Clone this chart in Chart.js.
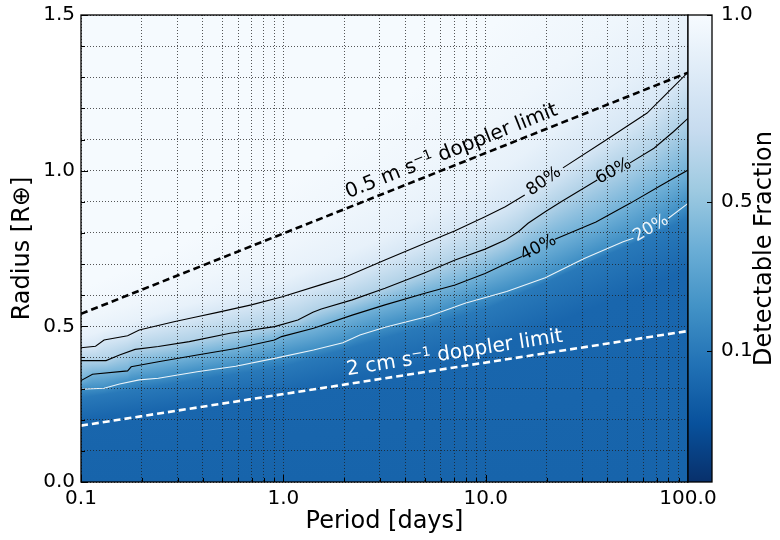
<!DOCTYPE html>
<html>
<head>
<meta charset="utf-8">
<script src="https://cdn.jsdelivr.net/npm/chart.js@4.4.0/dist/chart.umd.min.js"></script>
<style>
  html, body { margin: 0; padding: 0; background: #ffffff; }
  canvas { display: block; }
</style>
</head>
<body>
<canvas id="chart" width="780" height="540"></canvas>
<script>
// ---- Axis ticks ----
const xTickValues = [0.1, 1, 10, 100];
const xTickLabels = ['0.1', '1.0', '10.0', '100.0'];
const yTickValues = [0, 0.5, 1.0, 1.5];
const yTickLabels = ['0.0', '0.5', '1.0', '1.5'];
const cbarTickValues = [0.1, 0.5, 1.0];
const cbarTickLabels = ['0.1', '0.5', '1.0'];

// ---- Colour range of the detectable fraction ----
const colourMin = -0.25;
const colourMax = 1.0;

// ---- Detectable-fraction contours: [period (days), radius (R_earth)]; null marks the label gap ----
const contour20 = [
  [0.100, 0.298], [0.130, 0.301], [0.155, 0.315], [0.194, 0.328], [0.241, 0.333], [0.375, 0.354],
  [0.582, 0.372], [0.905, 0.397], [1.41, 0.424], [1.97, 0.447], [2.39, 0.472], [3.18, 0.497],
  [5.28, 0.533], [7.91, 0.574], [12.7, 0.612], [19.7, 0.656], [30.7, 0.718], [47.8, 0.772],
  [53.7, 0.783], null, [80.0, 0.847], [100, 0.895]
];
const contour40 = [
  [0.100, 0.326], [0.114, 0.346], [0.170, 0.357], [0.177, 0.370], [0.241, 0.386], [0.375, 0.408],
  [0.582, 0.429], [0.905, 0.456], [0.98, 0.467], [1.41, 0.494], [2.19, 0.536], [3.18, 0.569],
  [5.01, 0.606], [7.06, 0.633], [9.93, 0.670], [12.5, 0.700], [15.1, 0.724], null,
  [22.0, 0.780], [35.1, 0.835], [51.7, 0.895], [74.1, 0.954], [100, 1.002]
];
const contour60 = [
  [0.100, 0.390], [0.133, 0.390], [0.155, 0.408], [0.185, 0.426], [0.241, 0.435], [0.343, 0.451],
  [0.545, 0.478], [0.905, 0.499], [1.18, 0.520], [1.40, 0.545], [1.54, 0.556], [2.19, 0.585],
  [3.18, 0.622], [5.01, 0.672], [7.06, 0.713], [9.93, 0.748], [12.5, 0.777], [14.5, 0.804],
  [16.2, 0.831], [19.7, 0.868], [23.6, 0.900], [35.6, 0.970], null,
  [51.7, 1.025], [67.9, 1.072], [84.7, 1.125], [100, 1.168]
];
const contour80 = [
  [0.100, 0.431], [0.118, 0.436], [0.130, 0.456], [0.170, 0.470], [0.194, 0.488], [0.288, 0.515],
  [0.375, 0.531], [0.467, 0.544], [0.695, 0.569], [0.989, 0.595], [1.54, 0.634], [2.00, 0.657],
  [3.18, 0.713], [5.01, 0.767], [7.06, 0.807], [9.93, 0.852], [12.5, 0.884], [15.6, 0.922], null,
  [24.1, 1.009], [39.0, 1.097], [62.8, 1.185], [80.0, 1.253], [100, 1.316]
];
const contourLabels = ['20%', '40%', '60%', '80%'];

// ---- Further iso-fraction curves that only shade the map ----
const shade01 = [[0.1, 0.20], [1, 0.28], [10, 0.42], [100, 0.68]];
const shade10 = [[0.1, 0.27], [1, 0.37], [10, 0.555], [100, 0.845]];
const shade90 = [[0.1, 0.465], [0.3, 0.56], [1, 0.65], [3, 0.78], [10, 0.96], [30, 1.2], [100, 1.45]];
const shade95 = [[0.1, 0.52], [0.3, 0.62], [1, 0.76], [3, 0.93], [10, 1.14], [30, 1.40], [100, 1.65]];
const shade99 = [[0.1, 0.62], [0.3, 0.76], [1, 0.96], [3, 1.18], [10, 1.45], [30, 1.75], [100, 2.05]];

// ---- Doppler limits: radius at the period endpoints ----
const dopplerPeriods = [0.1, 100];
const doppler05ms = [0.540, 1.315];
const doppler2cms = [0.181, 0.485];
const dopplerLabelPeriod = 7.2;

// ---- Colours ----
const bluesRamp = ['#f7fbff', '#deebf7', '#c6dbef', '#9ecae1', '#6baed6', '#4292c6', '#2171b5', '#08519c', '#08306b'];
const FONT = "'DejaVu Sans', 'Liberation Sans', sans-serif";

function hexRgb(h) {
  return [parseInt(h.slice(1, 3), 16), parseInt(h.slice(3, 5), 16), parseInt(h.slice(5, 7), 16)];
}
const bluesRgb = bluesRamp.map(hexRgb);

// colourbar position p (0 = bottom/dark, 1 = top/white) -> rgb string
function cmap(p) {
  const t = Math.min(1, Math.max(0, 1 - p)) * (bluesRgb.length - 1);
  const i = Math.min(bluesRgb.length - 2, Math.floor(t));
  const f = t - i;
  const a = bluesRgb[i], b = bluesRgb[i + 1];
  return 'rgb(' + a.map((v, k) => Math.round(v + (b[k] - v) * f)).join(',') + ')';
}

function fractionColour(frac) { return cmap((frac - colourMin) / (colourMax - colourMin)); }

// radius on a curve at a given period (straight segments in log-period, as the lines are drawn)
function radiusAt(curve, period) {
  const pts = curve.filter(p => p);
  const lp = Math.log10(period);
  if (lp <= Math.log10(pts[0][0])) return pts[0][1];
  for (let i = 0; i < pts.length - 1; i++) {
    const l0 = Math.log10(pts[i][0]), l1 = Math.log10(pts[i + 1][0]);
    if (lp <= l1) {
      const f = (lp - l0) / (l1 - l0);
      return pts[i][1] + f * (pts[i + 1][1] - pts[i][1]);
    }
  }
  return pts[pts.length - 1][1];
}

const shadeLevels = [
  { fraction: 0.01, curve: shade01 },
  { fraction: 0.10, curve: shade10 },
  { fraction: 0.20, curve: contour20 },
  { fraction: 0.40, curve: contour40 },
  { fraction: 0.60, curve: contour60 },
  { fraction: 0.80, curve: contour80 },
  { fraction: 0.90, curve: shade90 },
  { fraction: 0.95, curve: shade95 },
  { fraction: 0.99, curve: shade99 }
];

function toPoints(curve) {
  let lastX = curve[0][0];
  return curve.map(p => {
    if (p) { lastX = p[0]; return { x: p[0], y: p[1] }; }
    return { x: lastX, y: null };
  });
}

const contourSets = [
  { curve: contour80, label: contourLabels[3], colour: '#000000' },
  { curve: contour60, label: contourLabels[2], colour: '#000000' },
  { curve: contour40, label: contourLabels[1], colour: '#000000' },
  { curve: contour20, label: contourLabels[0], colour: 'rgba(255,255,255,0.9)' }
];

const dopplerSets = [
  { radii: doppler05ms, colour: '#000000', parts: ['0.5 m s', '\u22121', ' doppler limit'] },
  { radii: doppler2cms, colour: '#ffffff', parts: ['2 cm s', '\u22121', ' doppler limit'] }
];

// ---- Map shading, drawn under the grid ----
const fieldPlugin = {
  id: 'fieldShading',
  beforeDraw(chart) {
    const { ctx, chartArea: a, scales: { x, y } } = chart;
    ctx.save();
    ctx.beginPath();
    ctx.rect(a.left, a.top, a.right - a.left, a.bottom - a.top);
    ctx.clip();
    // everything below the lowest curve carries the zero-fraction colour
    ctx.fillStyle = fractionColour(0);
    ctx.fillRect(a.left, a.top, a.right - a.left, a.bottom - a.top);
    for (let px = Math.floor(a.left); px < a.right; px++) {
      const period = x.getValueForPixel(px + 0.5);
      const ys = shadeLevels.map(l => y.getPixelForValue(radiusAt(l.curve, period)));
      const yZero = a.bottom;
      const y1 = ys[ys.length - 1];
      const g = ctx.createLinearGradient(0, yZero, 0, y1);
      g.addColorStop(0, fractionColour(0));
      let last = 0;
      shadeLevels.forEach((l, i) => {
        let off = (yZero - ys[i]) / (yZero - y1);
        off = Math.min(1, Math.max(last, off));
        last = off;
        g.addColorStop(off, fractionColour(l.fraction));
      });
      ctx.fillStyle = g;
      ctx.fillRect(px, a.top, 1, a.bottom - a.top);
    }
    ctx.restore();
  }
};

function drawRich(ctx, parts, colour) {
  const big = '20px ' + FONT, small = '13px ' + FONT;
  const fonts = [big, small, big];
  const widths = parts.map((t, i) => { ctx.font = fonts[i]; return ctx.measureText(t).width; });
  const total = widths.reduce((s, w) => s + w, 0);
  let cx = -total / 2;
  ctx.fillStyle = colour;
  ctx.textAlign = 'left';
  ctx.textBaseline = 'middle';
  parts.forEach((t, i) => {
    ctx.font = fonts[i];
    ctx.fillText(t, cx, i === 1 ? -5 : 0);
    cx += widths[i];
  });
}

// ---- Labels, frame, inward ticks, colourbar ----
const overlayPlugin = {
  id: 'overlay',
  afterDatasetsDraw(chart) {
    const { ctx, chartArea: a, scales: { x, y } } = chart;
    ctx.save();

    // contour labels, set in the gaps of their lines
    ctx.font = '17px ' + FONT;
    ctx.textAlign = 'center';
    ctx.textBaseline = 'middle';
    contourSets.forEach(c => {
      const gap = c.curve.indexOf(null);
      const p0 = c.curve[gap - 1], p1 = c.curve[gap + 1];
      const x0 = x.getPixelForValue(p0[0]), y0 = y.getPixelForValue(p0[1]);
      const x1 = x.getPixelForValue(p1[0]), y1 = y.getPixelForValue(p1[1]);
      ctx.save();
      ctx.translate((x0 + x1) / 2, (y0 + y1) / 2);
      ctx.rotate(Math.atan2(y1 - y0, x1 - x0));
      ctx.fillStyle = c.colour;
      ctx.fillText(c.label, 0, 0);
      ctx.restore();
    });

    // doppler-limit labels above their lines
    dopplerSets.forEach(d => {
      const xa = x.getPixelForValue(dopplerPeriods[0]), ya = y.getPixelForValue(d.radii[0]);
      const xb = x.getPixelForValue(dopplerPeriods[1]), yb = y.getPixelForValue(d.radii[1]);
      const ang = Math.atan2(yb - ya, xb - xa);
      const px = x.getPixelForValue(dopplerLabelPeriod);
      const py = ya + (px - xa) * (yb - ya) / (xb - xa);
      const off = 14;
      ctx.save();
      ctx.translate(px + Math.sin(ang) * off, py - Math.cos(ang) * off);
      ctx.rotate(ang);
      drawRich(ctx, d.parts, d.colour);
      ctx.restore();
    });

    // inward tick marks on the left and bottom spines
    ctx.strokeStyle = '#000';
    ctx.lineWidth = 1;
    y.ticks.forEach(t => {
      const major = yTickValues.some(v => Math.abs(v - t.value) < 1e-6);
      const py = Math.round(y.getPixelForValue(t.value)) + 0.5;
      ctx.beginPath();
      ctx.moveTo(a.left, py);
      ctx.lineTo(a.left + (major ? 7 : 4), py);
      ctx.stroke();
    });
    x.ticks.forEach(t => {
      const major = xTickValues.some(v => Math.abs(v - t.value) / v < 1e-6);
      const px = Math.round(x.getPixelForValue(t.value)) + 0.5;
      ctx.beginPath();
      ctx.moveTo(px, a.bottom);
      ctx.lineTo(px, a.bottom - (major ? 7 : 4));
      ctx.stroke();
    });

    // frame
    ctx.lineWidth = 1.3;
    ctx.strokeRect(a.left, a.top, a.right - a.left, a.bottom - a.top);
    ctx.restore();
  },
  afterDraw(chart) {
    const { ctx, chartArea: a } = chart;
    const s = chart.scales.cbar;
    const top = s.getPixelForValue(colourMax), bottom = s.getPixelForValue(colourMin);
    const left = a.right, width = 24;
    ctx.save();
    const g = ctx.createLinearGradient(0, bottom, 0, top);
    bluesRamp.forEach((c, i) => g.addColorStop(i / (bluesRamp.length - 1), bluesRamp[bluesRamp.length - 1 - i]));
    ctx.fillStyle = g;
    ctx.fillRect(left, top, width, bottom - top);
    ctx.strokeStyle = '#000';
    ctx.lineWidth = 1.3;
    ctx.strokeRect(left, top, width, bottom - top);
    ctx.lineWidth = 1;
    s.ticks.forEach(t => {
      const py = Math.round(s.getPixelForValue(t.value)) + 0.5;
      ctx.beginPath();
      ctx.moveTo(left + width - 5, py);
      ctx.lineTo(left + width, py);
      ctx.stroke();
    });
    // colourbar label, reading upwards
    ctx.translate(765, (top + bottom) / 2);
    ctx.rotate(-Math.PI / 2);
    ctx.font = '24px ' + FONT;
    ctx.fillStyle = '#000';
    ctx.textAlign = 'center';
    ctx.textBaseline = 'middle';
    ctx.fillText('Detectable Fraction', 0, 0);
    ctx.restore();
  }
};

Chart.defaults.font.family = FONT;
Chart.defaults.color = '#000000';

const gridBorder = { display: false, dash: [1, 2] };

new Chart(document.getElementById('chart'), {
  type: 'line',
  data: {
    datasets: [
      ...contourSets.map(c => ({
        data: toPoints(c.curve),
        borderColor: c.colour,
        borderWidth: 1.1,
        pointRadius: 0,
        tension: 0,
        fill: false,
        spanGaps: false
      })),
      ...dopplerSets.map(d => ({
        data: dopplerPeriods.map((p, i) => ({ x: p, y: d.radii[i] })),
        borderColor: d.colour,
        borderWidth: 2.6,
        borderDash: [7, 4],
        pointRadius: 0,
        fill: false
      }))
    ]
  },
  options: {
    responsive: false,
    animation: false,
    events: [],
    layout: { padding: { top: 15, left: 0, right: 0, bottom: 0 } },
    plugins: { legend: { display: false }, tooltip: { enabled: false } },
    scales: {
      x: {
        type: 'logarithmic',
        min: 0.1,
        max: 100,
        afterBuildTicks: s => {
          const ticks = [];
          for (let i = 0; i < xTickValues.length - 1; i++) {
            for (let m = 1; m < 10; m++) ticks.push({ value: xTickValues[i] * m });
          }
          ticks.push({ value: xTickValues[xTickValues.length - 1] });
          s.ticks = ticks;
        },
        ticks: {
          autoSkip: false,
          maxRotation: 0,
          padding: 5,
          font: { size: 20 },
          callback: v => {
            const i = xTickValues.findIndex(t => Math.abs(t - v) / t < 1e-6);
            return i >= 0 ? xTickLabels[i] : '';
          }
        },
        grid: { color: 'rgba(30,30,30,0.75)', lineWidth: 1, drawTicks: false },
        border: gridBorder,
        title: { display: true, text: 'Period [days]', font: { size: 24 }, padding: { top: 0, bottom: 4 } },
        afterFit: s => { s.height = 58; }
      },
      y: {
        type: 'linear',
        min: 0,
        max: 1.5,
        ticks: {
          stepSize: 0.1,
          autoSkip: false,
          padding: 0,
          font: { size: 20 },
          callback: v => {
            const i = yTickValues.findIndex(t => Math.abs(t - v) < 1e-6);
            return i >= 0 ? yTickLabels[i] : '';
          }
        },
        grid: { color: 'rgba(30,30,30,0.75)', lineWidth: 1, drawTicks: true, tickLength: 6, tickColor: 'rgba(0,0,0,0)' },
        border: gridBorder,
        title: { display: true, text: 'Radius [R\u2295]', font: { size: 24 }, padding: { top: 8, bottom: 0 } },
        afterFit: s => { s.width = 81; }
      },
      cbar: {
        type: 'linear',
        position: 'right',
        min: colourMin,
        max: colourMax,
        afterBuildTicks: s => { s.ticks = cbarTickValues.map(v => ({ value: v })); },
        ticks: {
          autoSkip: false,
          padding: 0,
          font: { size: 20 },
          callback: (v, i) => cbarTickLabels[i]
        },
        grid: { display: false, drawTicks: true, tickLength: 33 },
        border: { display: false },
        afterFit: s => { s.width = 92; }
      }
    }
  },
  plugins: [fieldPlugin, overlayPlugin]
});
</script>
</body>
</html>
